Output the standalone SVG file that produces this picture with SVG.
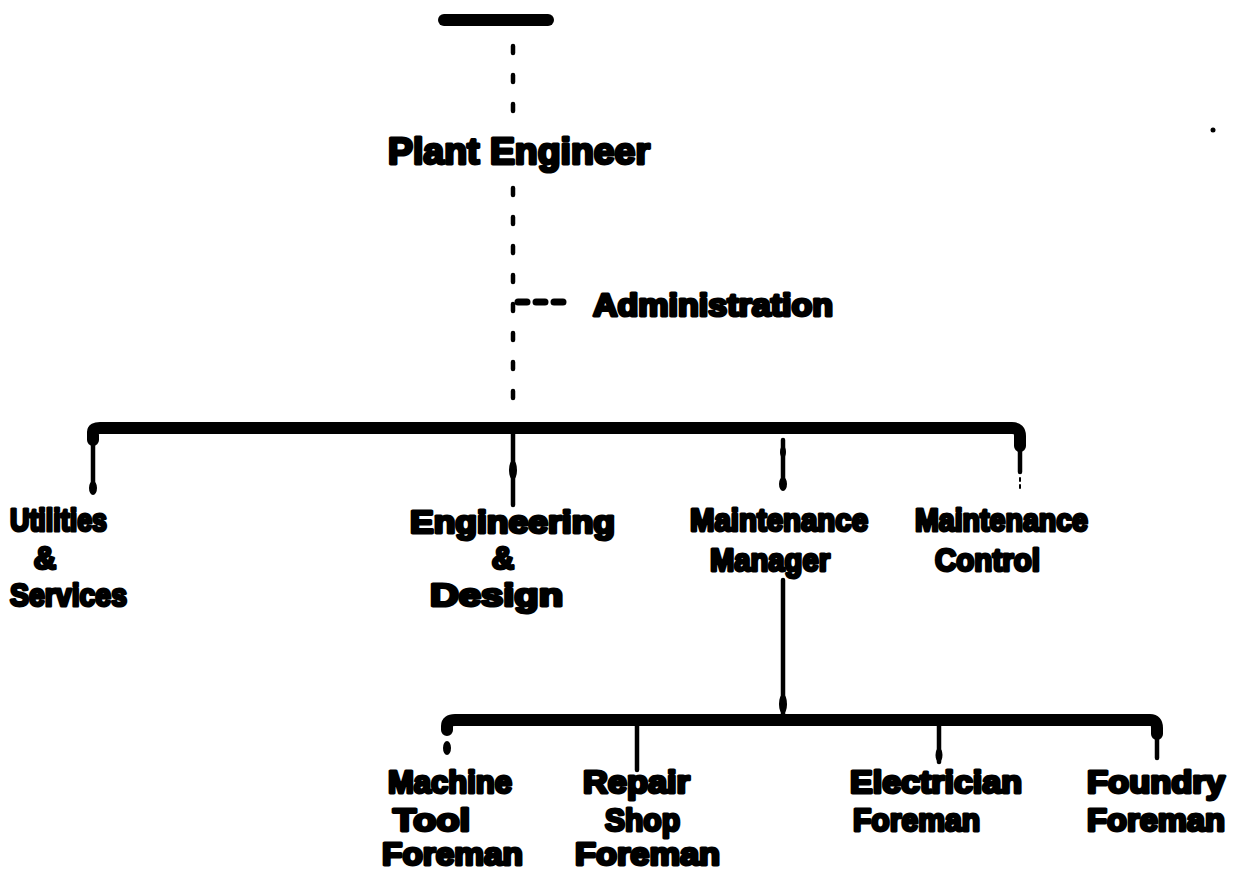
<svg xmlns="http://www.w3.org/2000/svg" width="1255" height="873" viewBox="0 0 1255 873">
  <style>
    .lbl { font-family: "Liberation Sans", Arial, sans-serif; font-weight: bold; font-size: 31px; fill: #000; stroke: #000; stroke-width: 3; stroke-linejoin: round; }
    .big { font-size: 36px; }
    .bar { stroke: #000; stroke-width: 12; stroke-linecap: round; fill: none; stroke-linejoin: round; }
    .drop { stroke: #000; stroke-width: 4.5; stroke-linecap: round; fill: none; }
    .dots { stroke: #000; stroke-width: 4.5; stroke-linecap: round; fill: none; stroke-dasharray: 7 22; }
  </style>
  <rect width="1255" height="873" fill="#fff"/>

  <!-- connectors -->
  <g id="connectors">
    <!-- top bar and dotted line of authority -->
    <line class="bar" x1="444" y1="20" x2="548" y2="20"/>
    <path class="dots" d="M513 46 V128"/>
    <path class="dots" d="M513 188 V420"/>
    <!-- staff link to Administration -->
    <path class="dots" d="M518 302 H570" style="stroke-width:7;stroke-dasharray:9 9"/>
    <!-- main distribution bar -->
    <path class="bar" d="M93 440 V432 Q93 428 100 428 H1012 Q1020 428 1020 436 V446"/>
    <line class="drop" x1="93" y1="440" x2="93" y2="492"/>
    <ellipse cx="93" cy="488" rx="4" ry="7"/>
    <line class="drop" x1="513" y1="428" x2="513" y2="505"/>
    <ellipse cx="513" cy="470" rx="4" ry="10"/>
    <line class="drop" x1="783" y1="440" x2="783" y2="488"/>
    <ellipse cx="783" cy="484" rx="4" ry="7"/>
    <ellipse cx="783" cy="452" rx="3" ry="6"/>
    <line class="drop" x1="1020" y1="440" x2="1020" y2="472"/>
    <path class="dots" d="M1020 478 V490" style="stroke-width:2;stroke-dasharray:3 4"/>
    <!-- Maintenance Manager down to foremen -->
    <line class="drop" x1="783" y1="580" x2="783" y2="718"/>
    <ellipse cx="783" cy="704" rx="4" ry="10"/>
    <path class="bar" d="M447 730 V726 Q447 720 455 720 H1150 Q1157 720 1157 728 V734"/>
    <ellipse cx="447" cy="748" rx="4" ry="7"/>
    <line class="drop" x1="637" y1="720" x2="637" y2="770"/>
    <line class="drop" x1="939" y1="720" x2="939" y2="762"/>
    <ellipse cx="939" cy="755" rx="3.5" ry="7"/>
    <line class="drop" x1="1157" y1="720" x2="1157" y2="758"/>
  </g>

  <!-- stray speck -->
  <circle cx="1213" cy="130" r="2.5"/>

  <g id="plant-engineer">
    <text class="lbl big" x="388" y="164" textLength="262" lengthAdjust="spacingAndGlyphs">Plant Engineer</text>
  </g>

  <g id="administration">
    <text class="lbl" x="593" y="316" textLength="240" lengthAdjust="spacingAndGlyphs">Administration</text>
  </g>

  <g id="utilities-services">
    <text class="lbl" x="10" y="531" textLength="97" lengthAdjust="spacingAndGlyphs">Utilities</text>
    <text class="lbl" x="45" y="569" text-anchor="middle">&amp;</text>
    <text class="lbl" x="10" y="606" textLength="117" lengthAdjust="spacingAndGlyphs">Services</text>
  </g>

  <g id="engineering-design">
    <text class="lbl" x="410" y="533" textLength="205" lengthAdjust="spacingAndGlyphs">Engineering</text>
    <text class="lbl" x="503" y="569" text-anchor="middle">&amp;</text>
    <text class="lbl" x="430" y="606" textLength="133" lengthAdjust="spacingAndGlyphs">Design</text>
  </g>

  <g id="maintenance-manager">
    <text class="lbl" x="690" y="531" textLength="178" lengthAdjust="spacingAndGlyphs">Maintenance</text>
    <text class="lbl" x="710" y="571" textLength="120" lengthAdjust="spacingAndGlyphs">Manager</text>
  </g>

  <g id="maintenance-control">
    <text class="lbl" x="915" y="531" textLength="173" lengthAdjust="spacingAndGlyphs">Maintenance</text>
    <text class="lbl" x="935" y="571" textLength="105" lengthAdjust="spacingAndGlyphs">Control</text>
  </g>

  <g id="machine-tool-foreman">
    <text class="lbl" x="388" y="793" textLength="124" lengthAdjust="spacingAndGlyphs">Machine</text>
    <text class="lbl" x="393" y="831" textLength="77" lengthAdjust="spacingAndGlyphs">Tool</text>
    <text class="lbl" x="382" y="865" textLength="141" lengthAdjust="spacingAndGlyphs">Foreman</text>
  </g>

  <g id="repair-shop-foreman">
    <text class="lbl" x="583" y="793" textLength="107" lengthAdjust="spacingAndGlyphs">Repair</text>
    <text class="lbl" x="605" y="831" textLength="75" lengthAdjust="spacingAndGlyphs">Shop</text>
    <text class="lbl" x="575" y="865" textLength="145" lengthAdjust="spacingAndGlyphs">Foreman</text>
  </g>

  <g id="electrician-foreman">
    <text class="lbl" x="850" y="793" textLength="172" lengthAdjust="spacingAndGlyphs">Electrician</text>
    <text class="lbl" x="853" y="831" textLength="127" lengthAdjust="spacingAndGlyphs">Foreman</text>
  </g>

  <g id="foundry-foreman">
    <text class="lbl" x="1087" y="793" textLength="138" lengthAdjust="spacingAndGlyphs">Foundry</text>
    <text class="lbl" x="1087" y="831" textLength="138" lengthAdjust="spacingAndGlyphs">Foreman</text>
  </g>
</svg>
